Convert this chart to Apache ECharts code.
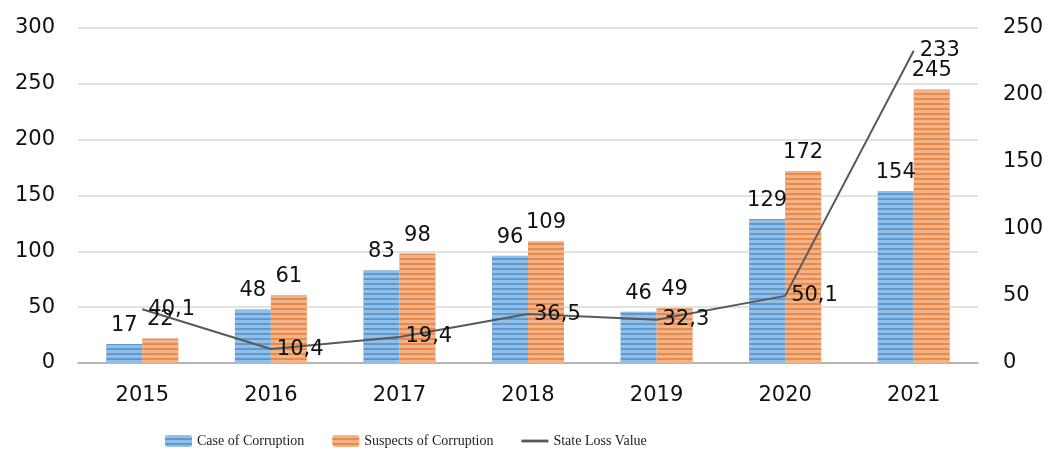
<!DOCTYPE html>
<html>
<head>
<meta charset="utf-8">
<script src="https://cdn.jsdelivr.net/npm/echarts@6/dist/echarts.min.js"></script>
<style>
  html, body { margin: 0; padding: 0; background: #fff; }
  #chart { width: 1050px; height: 452px; }
</style>
</head>
<body>
<div id="chart"></div>
<script>
  const years = ['2015', '2016', '2017', '2018', '2019', '2020', '2021'];
  const cases = [17, 48, 83, 96, 46, 129, 154];
  const suspects = [22, 61, 98, 109, 49, 172, 245];
  const stateLoss = [40.1, 10.4, 19.4, 36.5, 32.3, 50.1, 233];

  const chart = echarts.init(document.getElementById('chart'));
  const tickFont = { fontFamily: 'DejaVu Sans', fontSize: 21, color: '#111' };
  const stripes = {
    symbol: 'rect',
    symbolSize: 1,
    dashArrayX: [1, 0],
    dashArrayY: [3, 2],
    color: 'rgba(255,255,255,0.35)'
  };

  const option = {
    animation: false,
    grid: { left: 78, right: 72, top: 28, bottom: 89 },
    legend: {
      left: 160,
      top: 429,
      itemWidth: 27,
      itemHeight: 12,
      itemGap: 28,
      textStyle: { fontFamily: 'Liberation Serif', fontSize: 14, color: '#222' },
      data: [
        'Case of Corruption',
        'Suspects of Corruption',
        { name: 'State Loss Value', icon: 'path://M0,0 H24 V2.5 H0 Z', itemStyle: { color: '#595959' } }
      ]
    },
    xAxis: {
      type: 'category',
      data: years,
      axisTick: { show: false },
      axisLine: { lineStyle: { color: '#a6a6a6', width: 1.5 } },
      axisLabel: Object.assign({ margin: 22 }, tickFont)
    },
    yAxis: [
      {
        type: 'value', min: 0, max: 300, interval: 50,
        axisLabel: Object.assign({ margin: 23 }, tickFont),
        splitLine: { lineStyle: { color: '#d9d9d9', width: 1.5 } }
      },
      {
        type: 'value', min: 0, max: 250, interval: 50,
        axisLabel: Object.assign({ margin: 25 }, tickFont),
        splitLine: { show: false }
      }
    ],
    series: [
      {
        name: 'Case of Corruption',
        type: 'bar',
        data: cases,
        barWidth: 36,
        barGap: '0%',
        itemStyle: { color: '#5b9bd5', decal: stripes },
        label: { show: true, position: 'top', distance: 8, fontFamily: 'DejaVu Sans', fontSize: 21, color: '#111' }
      },
      {
        name: 'Suspects of Corruption',
        type: 'bar',
        data: suspects,
        barWidth: 36,
        itemStyle: { color: '#e98a4a', decal: stripes },
        label: { show: true, position: 'top', distance: 8, fontFamily: 'DejaVu Sans', fontSize: 21, color: '#111' }
      },
      {
        name: 'State Loss Value',
        type: 'line',
        yAxisIndex: 1,
        data: stateLoss,
        symbol: 'circle',
        symbolSize: 0,
        lineStyle: { color: '#595959', width: 2 },
        itemStyle: { color: '#595959' },
        label: {
          show: true,
          position: 'right',
          distance: 6,
          fontFamily: 'DejaVu Sans',
          fontSize: 21,
          color: '#111',
          formatter: p => String(p.value).replace('.', ',')
        }
      }
    ]
  };
  chart.setOption(option);
</script>
</body>
</html>
